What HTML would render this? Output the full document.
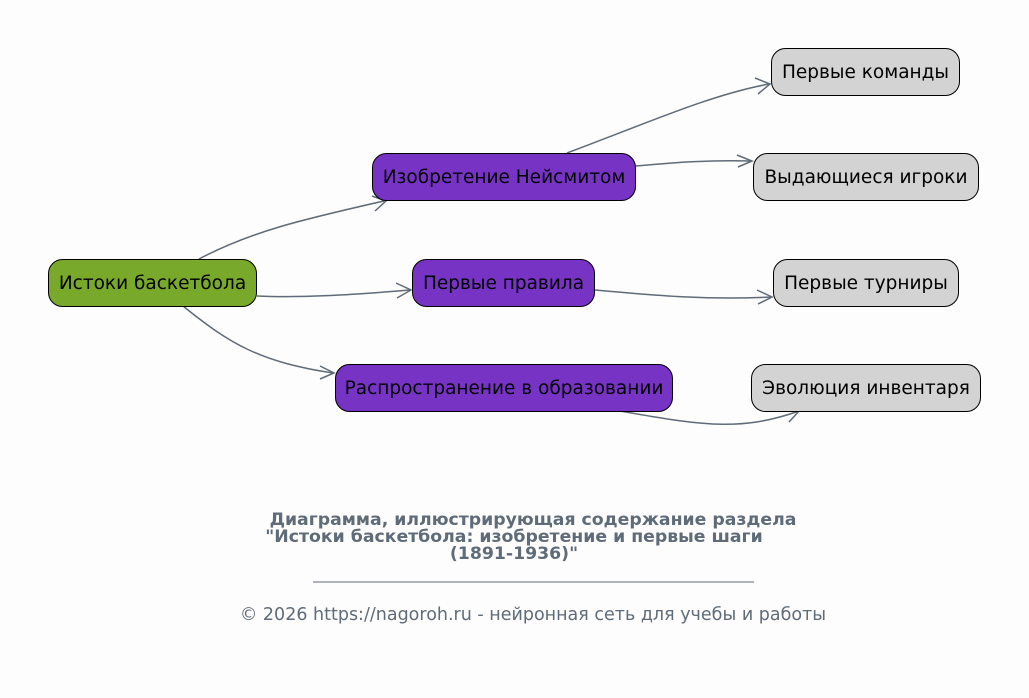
<!DOCTYPE html>
<html><head><meta charset="utf-8"><style>
body{margin:0;background:#fdfdfd;}
svg{display:block}
text{font-family:"DejaVu Sans","Liberation Sans",sans-serif;}
</style></head><body>
<svg width="1029" height="698" viewBox="0 0 1029 698" xmlns="http://www.w3.org/2000/svg">
<rect width="1029" height="698" fill="#fdfdfd"/>
<g fill="none" stroke="#5f6b78" stroke-width="1.5">
<path d="M199,259 C250,232 300,220 384,201"/>
<path d="M372,196 L386,201 L375,211"/>
<path d="M257,296 C300,298 350,295 410,290"/>
<path d="M396,283 L411,290 L397,298"/>
<path d="M183,306 C230,344 260,362 333,373"/>
<path d="M320,366 L334,373 L320,379"/>
<path d="M567,153 C650,122 710,95 769,84"/>
<path d="M755,78 L770,84 L758,94"/>
<path d="M636,166 C680,162 710,160 751,161"/>
<path d="M737,155 L752,161 L738,167"/>
<path d="M595,290 C660,296 710,300 771,297"/>
<path d="M757,290 L772,297 L758,304"/>
<path d="M620,411 C700,425 740,432 799,411"/>
<path d="M785,411 L800,410 L789,422"/>
</g>
<g stroke="#000" stroke-width="1">
<rect x="48.5" y="259.5" width="208" height="47" rx="14" fill="#79a92a"/>
<rect x="372.5" y="153.5" width="263" height="47" rx="14" fill="#7733c4"/>
<rect x="412.5" y="259.5" width="182" height="47" rx="14" fill="#7733c4"/>
<rect x="335.5" y="364.5" width="337" height="47" rx="14" fill="#7733c4"/>
<rect x="771.5" y="48.5" width="188" height="47" rx="14" fill="#d3d3d3"/>
<rect x="753.5" y="153.5" width="225" height="47" rx="14" fill="#d3d3d3"/>
<rect x="773.5" y="259.5" width="185" height="47" rx="14" fill="#d3d3d3"/>
<rect x="751.5" y="364.5" width="229" height="47" rx="14" fill="#d3d3d3"/>
</g>
<g font-size="18.5" fill="#000" text-anchor="middle">
<text x="152.5" y="289">Истоки баскетбола</text>
<text x="504" y="183">Изобретение Нейсмитом</text>
<text x="503.5" y="289">Первые правила</text>
<text x="504" y="394">Распространение в образовании</text>
<text x="865.5" y="78">Первые команды</text>
<text x="866" y="183">Выдающиеся игроки</text>
<text x="866" y="289">Первые турниры</text>
<text x="866" y="394">Эволюция инвентаря</text>
</g>
<g fill="#5f6b78" text-anchor="middle">
<text x="533" y="525" font-size="17.3" font-weight="bold">Диаграмма, иллюстрирующая содержание раздела</text>
<text x="514" y="542" font-size="17.3" font-weight="bold">"Истоки баскетбола: изобретение и первые шаги</text>
<text x="514" y="559" font-size="17.3" font-weight="bold">(1891-1936)"</text>
<line x1="313" y1="582" x2="754" y2="582" stroke="#5f6b78" stroke-width="1"/>
<text x="533" y="620" font-size="17.5">© 2026 https://nagoroh.ru - нейронная сеть для учебы и работы</text>
</g>
</svg>
</body></html>
